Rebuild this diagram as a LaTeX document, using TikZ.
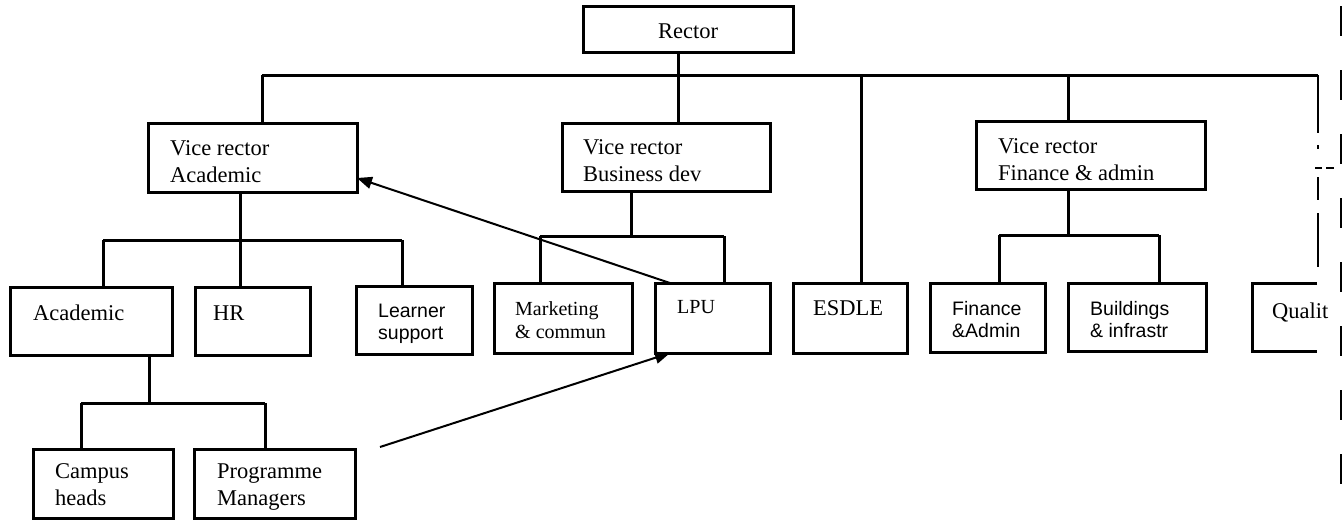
\documentclass[tikz,border=0pt]{standalone}
\usepackage{fontspec}
\setmainfont{Liberation Serif}
\newfontfamily\arialf{Liberation Sans}
\usetikzlibrary{arrows.meta}
\begin{document}
\begin{tikzpicture}[x=1pt,y=-1pt,
  box/.style={draw, line width=3pt, rectangle, inner sep=0pt, outer sep=0pt, anchor=north west},
  conn/.style={line width=3pt},
  arr/.style={line width=2pt, -{Triangle[length=15pt,width=12pt]}},
  % multi-line texts are placed by the baseline of their last line
  serif/.style={inner sep=0pt, anchor=base west, align=left, font=\fontsize{22.5}{27}\selectfont},
  serifs/.style={inner sep=0pt, anchor=base west, align=left, font=\fontsize{20}{23}\selectfont},
  sans/.style={inner sep=0pt, anchor=base west, align=left, font=\arialf\fontsize{19.5}{22}\selectfont}]
\useasboundingbox[fill=white] (0,0) rectangle (1343,520);

% ---- boxes (top-left corner, size) ----
\node[box, minimum width=210pt, minimum height=46pt] (rector) at (583,6) {};
\node[box, minimum width=209pt, minimum height=69pt] (vra) at (148,123) {};
\node[box, minimum width=208pt, minimum height=68pt] (vrb) at (562,123) {};
\node[box, minimum width=229pt, minimum height=68pt] (vrf) at (976,121) {};

\node[box, minimum width=162pt, minimum height=68pt] (acad) at (10,287) {};
\node[box, minimum width=115pt, minimum height=68pt] (hr) at (195,287) {};
\node[box, minimum width=116pt, minimum height=68pt] (learn) at (356,286) {};
\node[box, minimum width=140pt, minimum height=69pt] (campus) at (33,449) {};
\node[box, minimum width=161pt, minimum height=69pt] (pm) at (194,449) {};

\node[box, minimum width=138pt, minimum height=70pt] (mkt) at (494,283) {};
\node[box, minimum width=115pt, minimum height=70pt] (lpu) at (655,283) {};
\node[box, minimum width=114pt, minimum height=70pt] (esdle) at (793,283) {};

\node[box, minimum width=115pt, minimum height=69pt] (fin) at (930,283) {};
\node[box, minimum width=138pt, minimum height=68pt] (bld) at (1068,283) {};

% quality box runs off the right edge
\coordinate (qtr) at (1317,283);
\coordinate (qbr) at (1317,351);
\draw[conn] (qtr) -- (1252,283) -- (1252,351) -- (qbr);

% ---- texts ----
\node[serif, anchor=base] (t-rector) at (688,38) {Rector};
\node[serif] (t-vra) at (170,182) {Vice rector\\Academic};
\node[serif] (t-vrb) at (583,181) {Vice rector\\Business dev};
\node[serif] (t-vrf) at (998,180) {Vice rector\\Finance \& admin};
\node[serif] (t-acad) at (33,320) {Academic};
\node[serif] (t-hr) at (213,320) {HR};
\node[sans] (t-learn) at (378,339) {Learner\\support};
\node[serif] (t-campus) at (55,505) {Campus\\heads};
\node[serif] (t-pm) at (217,505) {Programme\\Managers};
\node[serifs] (t-mkt) at (515,338) {Marketing\\\& commun};
\node[serifs] (t-lpu) at (677,313) {LPU};
\node[serif] (t-esdle) at (813,315) {ESDLE};
\node[sans] (t-fin) at (952,337) {Finance\\\&Admin};
\node[sans] (t-bld) at (1090,337) {Buildings\\\& infrastr};
\node[serif] (t-qual) at (1272,318) {Qualit};

% ---- reporting lines ----
\coordinate (busL) at (262,75);
\coordinate (busR) at (1318,75);
\coordinate (sR) at (678,75);
\coordinate (sE) at (861,75);
\coordinate (sF) at (1068,75);
\draw[conn] (busL) -- (busR);
\draw[conn] (busL) -- (busL |- vra.north);
\draw[conn] (sR |- rector.south) -- (sR |- vrb.north);
\draw[conn] (sE) -- (sE |- esdle.north);
\draw[conn] (sF) -- (sF |- vrf.north);

% broken line down to quality
\draw[line width=2.6pt, dash pattern=on 58pt off 12pt on 4pt off 28pt on 23pt off 13pt on 54pt]
  (busR) -- (busR |- qtr);
\draw[line width=1.6pt, dash pattern=on 7pt off 4pt on 8pt off 20pt] (1315,168) -- (1335,168);

% academic branch
\coordinate (jA) at (240,240);
\draw[conn] (jA |- vra.south) -- (jA);
\draw[conn] (103,240) coordinate (jA1) -- (402,240) coordinate (jA3);
\draw[conn] (jA1) -- (jA1 |- acad.north);
\draw[conn] (jA) -- (jA |- hr.north);
\draw[conn] (jA3) -- (jA3 |- learn.north);

\coordinate (jC) at (149,403);
\draw[conn] (jC |- acad.south) -- (jC);
\draw[conn] (81,403) coordinate (jC1) -- (265,403) coordinate (jC2);
\draw[conn] (jC1) -- (jC1 |- campus.north);
\draw[conn] (jC2) -- (jC2 |- pm.north);

% business development branch
\coordinate (jB) at (631,236);
\draw[conn] (jB |- vrb.south) -- (jB);
\draw[conn] (540,236) coordinate (jB1) -- (724,236) coordinate (jB2);
\draw[conn] (jB1) -- (jB1 |- mkt.north);
\draw[conn] (jB2) -- (jB2 |- lpu.north);

% finance branch
\coordinate (jF) at (1068,235);
\draw[conn] (jF |- vrf.south) -- (jF);
\draw[conn] (999,235) coordinate (jF1) -- (1159,235) coordinate (jF2);
\draw[conn] (jF1) -- (jF1 |- fin.north);
\draw[conn] (jF2) -- (jF2 |- bld.north);

% cross links
\draw[arr] ([xshift=15pt]lpu.north west) -- ([yshift=-20.5pt]vra.east);
\coordinate (pmlink) at (380,447);
\draw[arr] (pmlink) -- ([xshift=15pt]lpu.south west);

% edge marks
\draw[line width=2.6pt, dash pattern=on 30pt off 34pt] (1341,6) -- (1341,505);
\end{tikzpicture}
\end{document}
